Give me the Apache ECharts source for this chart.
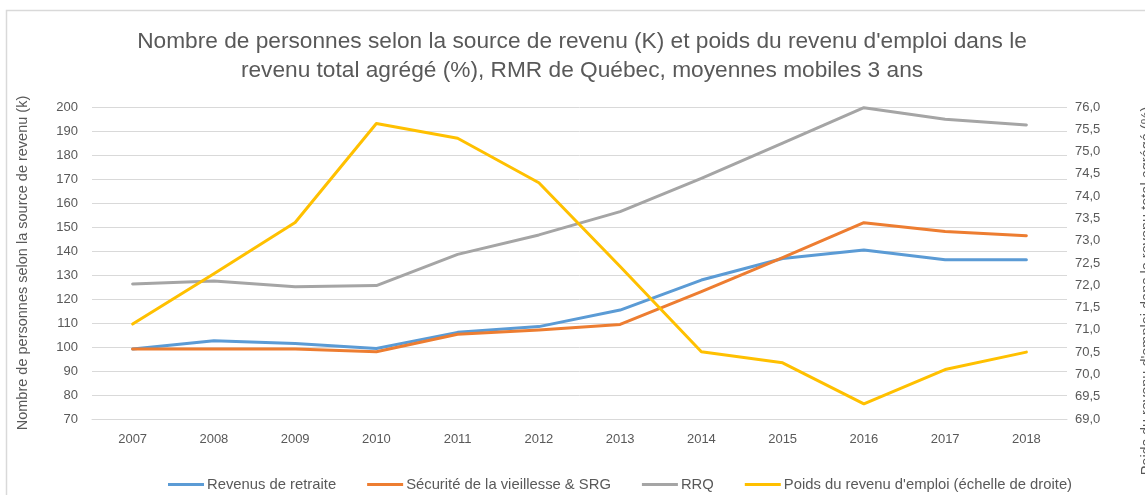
<!DOCTYPE html>
<html>
<head>
<meta charset="utf-8">
<script src="https://cdn.jsdelivr.net/npm/echarts@6/dist/echarts.min.js"></script>
<style>
    html, body { margin: 0; padding: 0; background: #fff; }
    #chart { width: 1145px; height: 495px; }
</style>
</head>
<body>
<div id="chart"></div>
<script>
// années (axe horizontal)
var annees = ['2007', '2008', '2009', '2010', '2011', '2012', '2013', '2014', '2015', '2016', '2017', '2018'];

// nombre de personnes (K), échelle de gauche
var revenusRetraite = [99.2, 102.6, 101.5, 99.4, 106.1, 108.5, 115.4, 127.9, 136.9, 140.4, 136.4, 136.4];
var securiteVieillesse = [99.2, 99.2, 99.2, 98.0, 105.3, 107.1, 109.4, 123.1, 137.2, 151.8, 148.1, 146.4];
var rrq = [126.3, 127.5, 125.1, 125.6, 138.6, 146.7, 156.4, 170.3, 184.9, 199.7, 194.9, 192.5];

// poids du revenu d'emploi (%), échelle de droite
var poidsEmploi = [71.13, 72.26, 73.41, 75.63, 75.30, 74.30, 72.42, 70.51, 70.26, 69.34, 70.11, 70.50];

var nomsSeries = ['Revenus de retraite', 'Sécurité de la vieillesse & SRG', 'RRQ', "Poids du revenu d'emploi (échelle de droite)"];

function render(divId) {
    var dom = document.getElementById(divId);
    var myChart = echarts.init(dom);
    var police = 'Liberation Sans';
    var gris = '#595959';

    function ligne(nom, data, couleur, axe) {
        return {
            name: nom,
            type: 'line',
            yAxisIndex: axe,
            data: data,
            symbol: 'none',
            smooth: false,
            lineStyle: {width: 3, color: couleur, cap: 'round', join: 'round'},
            itemStyle: {color: couleur}
        };
    }

    var option = {
        animation: false,
        color: ['#5B9BD5', '#ED7D31', '#A5A5A5', '#FFC000'],
        textStyle: {fontFamily: police},
        graphic: [{
            type: 'rect',
            shape: {x: 6.5, y: 10.5, width: 1300, height: 600},
            style: {fill: 'none', stroke: '#d9d9d9', lineWidth: 1.5},
            silent: true
        }],
        title: {
            text: 'Nombre de personnes selon la source de revenu (K) et poids du revenu d\'emploi dans le\nrevenu total agrégé (%), RMR de Québec, moyennes mobiles 3 ans',
            left: 577,
            top: 22,
            textAlign: 'center',
            textStyle: {
                fontFamily: police,
                fontSize: 22.7,
                fontWeight: 'normal',
                color: gris,
                lineHeight: 29
            }
        },
        legend: {
            data: nomsSeries,
            left: 163,
            top: 472,
            itemWidth: 36,
            itemHeight: 3,
            itemGap: 31,
            icon: 'rect',
            textStyle: {fontFamily: police, fontSize: 14.8, color: gris, padding: [0, 0, 0, -2]}
        },
        grid: {
            left: 92,
            right: 78,
            top: 107,
            bottom: 76,
            containLabel: false,
            outerBoundsMode: 'none'
        },
        xAxis: {
            type: 'category',
            data: annees,
            boundaryGap: true,
            axisLine: {show: true, lineStyle: {color: '#d9d9d9', width: 1}},
            axisTick: {show: false},
            axisLabel: {color: gris, fontSize: 13, margin: 14, fontFamily: police}
        },
        yAxis: [
            {
                type: 'value',
                min: 70,
                max: 200,
                interval: 10,
                name: 'Nombre de personnes selon la source de revenu (k)',
                nameLocation: 'middle',
                nameGap: 62,
                nameRotate: 90,
                nameTextStyle: {color: gris, fontSize: 14.5, fontFamily: police},
                axisLine: {show: false},
                axisTick: {show: false},
                axisLabel: {color: gris, fontSize: 13, margin: 14, fontFamily: police},
                splitLine: {show: true, lineStyle: {color: '#d9d9d9', width: 1}}
            },
            {
                type: 'value',
                min: 69,
                max: 76,
                interval: 0.5,
                position: 'right',
                name: 'Poids du revenu d\'emploi dans le revenu total agrégé (%)',
                nameLocation: 'middle',
                nameGap: 72,
                nameRotate: 90,
                nameTextStyle: {color: gris, fontSize: 14.5, fontFamily: police, padding: [0, 56, 0, 0]},
                axisLine: {show: false},
                axisTick: {show: false},
                axisLabel: {
                    color: gris,
                    fontSize: 13,
                    margin: 8,
                    fontFamily: police,
                    formatter: function (v) {
                        return v.toFixed(1).replace('.', ',');
                    }
                },
                splitLine: {show: false}
            }
        ],
        series: [
            ligne(nomsSeries[0], revenusRetraite, '#5B9BD5', 0),
            ligne(nomsSeries[1], securiteVieillesse, '#ED7D31', 0),
            ligne(nomsSeries[2], rrq, '#A5A5A5', 0),
            ligne(nomsSeries[3], poidsEmploi, '#FFC000', 1)
        ]
    };

    myChart.setOption(option);
}

render('chart');
</script>
</body>
</html>
